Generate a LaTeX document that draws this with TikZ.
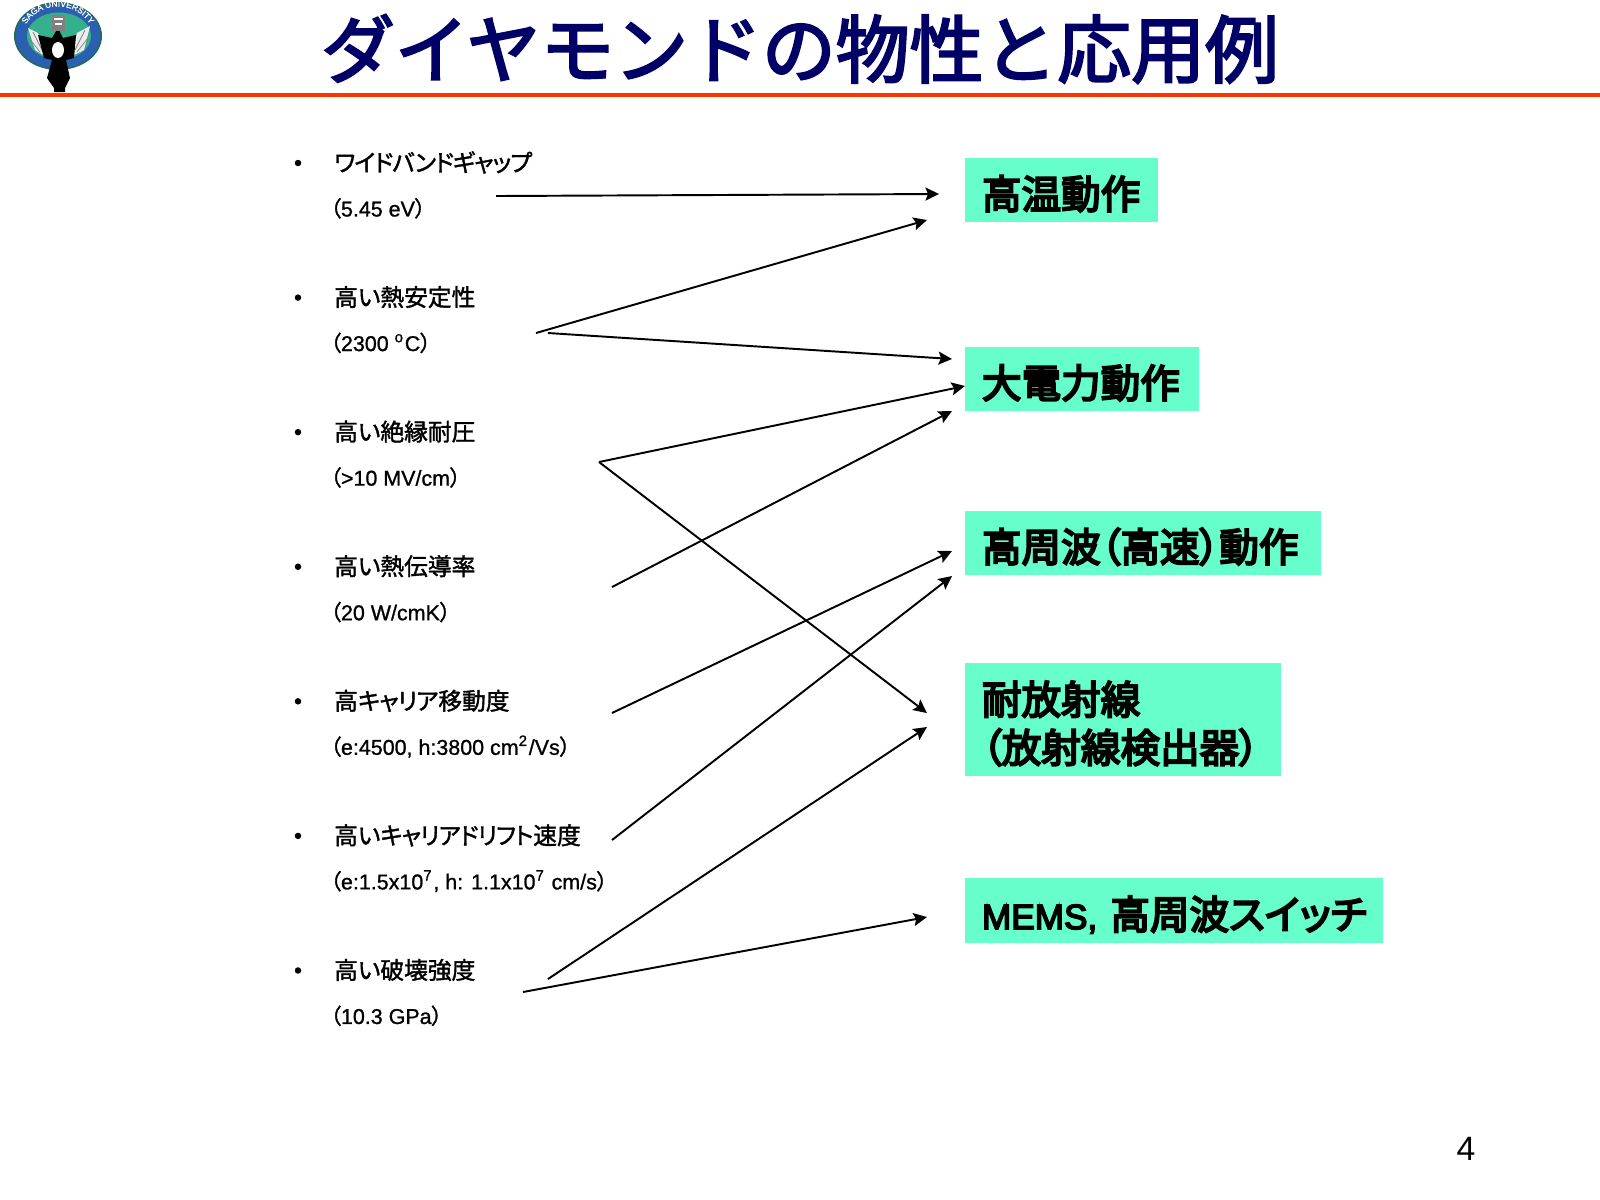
\documentclass[tikz,border=0pt]{standalone}
\usepackage{fontspec}
\usepackage{xcolor}
\usetikzlibrary{arrows.meta,positioning,decorations.text}
\setmainfont[FakeBold=1]{Liberation Sans}
\newfontfamily\latinbox[FakeBold=4.5]{Liberation Sans}
\newfontfamily\plainsans{Liberation Sans}
\newfontfamily\cjk[RawFeature={+palt;embolden=1.5}]{Noto Sans CJK JP}
\newfontfamily\cjknarrow[RawFeature={+palt;embolden=1.5;letterspace=-4}]{Noto Sans CJK JP}
\newfontfamily\cjkbox[RawFeature={+palt;embolden=5}]{Noto Sans CJK JP}
\newfontfamily\cjktitle[FakeBold=3]{Noto Sans CJK JP}
\newcommand{\jp}[1]{{\cjk #1}}
\newcommand{\kn}[1]{{\cjknarrow #1}}
\newcommand{\logofont}{\fontsize{2.4pt}{3pt}\selectfont}
\definecolor{sagablue}{HTML}{2B5FB0}
\definecolor{sagagreen}{HTML}{35B08C}
\definecolor{ruleorange}{HTML}{FF3300}
\definecolor{titleblue}{HTML}{000066}
\definecolor{goalgreen}{HTML}{66FFCC}

\begin{document}
\begin{tikzpicture}[
  x=0.01cm,y=-0.01cm,outer sep=0pt,
  bul/.style={circle,fill=black,inner sep=0pt,minimum size=0.065cm},
  head/.style={anchor=west,inner sep=0pt,text height=6pt,text depth=1.2pt,font=\fontsize{6.75pt}{8pt}\selectfont\cjk},
  sub/.style={anchor=west,inner sep=0pt,text height=6pt,text depth=1.2pt,font=\fontsize{6.1pt}{8pt}\selectfont},
  goal/.style={anchor=north west,fill=goalgreen,inner xsep=0.17cm,inner ysep=0pt,align=left,execute at begin node={\rule{0pt}{11.6pt}},font=\fontsize{11.25pt}{13.7pt}\selectfont\cjkbox},
  >={Stealth[length=1.35mm,width=1.3mm,inset=0.25mm]}]
  \useasboundingbox (0,0) rectangle (1600,1199);
  % header
  \node[inner sep=0pt,text=titleblue,font=\fontsize{21pt}{24pt}\selectfont\cjktitle] (title) at (800,49) {ダイヤモンドの物性と応用例};
  \draw[ruleorange,line width=1.4pt] (0,95) -- (1600,95);
  % logo
  \fill[sagagreen!60!black] (58,36) ellipse [x radius=44,y radius=34];
  \fill[sagablue] (58,36) ellipse [x radius=42.5,y radius=32.5];
  \fill[sagagreen] (59,36) ellipse [x radius=32,y radius=23.5];
  \fill[white!85!gray] (28,28) -- (38,33) -- (45,56) -- (35,50) -- cycle;
  \fill[white!85!gray] (90,26) -- (77,33) -- (72,56) -- (84,50) -- cycle;
  \draw[gray,line width=0.2pt] (33,32)--(42,50) (29,38)--(40,52) (85,30)--(75,50) (88,38)--(77,52);
  \fill[black] (38,35) -- (52,38) -- (58,28) -- (63,38) -- (76,35) -- (74,58) -- (66,60) -- (70,78)
    -- (65,88) -- (65,92) -- (54,92) -- (54,88) -- (47,78) -- (52,60) -- (44,58) -- cycle;
  \fill[white] (58,50) ellipse [x radius=6,y radius=8];
  \fill[gray] (52,15) rectangle (65,31);
  \draw[white,line width=0.4pt] (54,19) -- (63,19) (55,24) -- (62,24);
  \path[decorate,decoration={text along path,text align=center,
    text={|\color{white}\logofont|SAGA UNIVERSITY}}]
    (20,44) .. controls (24,-6) and (92,-6) .. (96,44);
  % properties
  \node[bul] (b1) at (298,163) {};
  \node[bul,below=1.28cm of b1] (b2) {};
  \node[bul,below=1.28cm of b2] (b3) {};
  \node[bul,below=1.28cm of b3] (b4) {};
  \node[bul,below=1.28cm of b4] (b5) {};
  \node[bul,below=1.28cm of b5] (b6) {};
  \node[bul,below=1.28cm of b6] (b7) {};
  \node[head,right=0.33cm of b1] (h1) {\kn{ワイドバンドギャップ}};
  \node[head,right=0.33cm of b2] (h2) {高い熱安定性};
  \node[head,right=0.33cm of b3] (h3) {高い絶縁耐圧};
  \node[head,right=0.33cm of b4] (h4) {高い熱伝導率};
  \node[head,right=0.33cm of b5] (h5) {高\kn{キャリア}移動度};
  \node[head,right=0.33cm of b6] (h6) {高い\kn{キャリアドリフト}速度};
  \node[head,right=0.33cm of b7] (h7) {高い破壊強度};
  \node[sub,below=0.45cm of h1.west,anchor=west,xshift=-0.04cm] (s1) {\jp{（}5.45 eV\jp{）}};
  \node[sub,below=0.45cm of h2.west,anchor=west,xshift=-0.04cm] (s2) {\jp{（}2300 \textsuperscript{o}C\jp{）}};
  \node[sub,below=0.45cm of h3.west,anchor=west,xshift=-0.04cm] (s3) {\jp{（}>10 MV/cm\jp{）}};
  \node[sub,below=0.45cm of h4.west,anchor=west,xshift=-0.04cm] (s4) {\jp{（}20 W/cmK\jp{）}};
  \node[sub,below=0.45cm of h5.west,anchor=west,xshift=-0.04cm] (s5) {\jp{（}e:4500, h:3800 cm\textsuperscript{2}/Vs\jp{）}};
  \node[sub,below=0.45cm of h6.west,anchor=west,xshift=-0.04cm] (s6) {\jp{（}e:1.5x10\textsuperscript{7}, h: 1.1x10\textsuperscript{7} cm/s\jp{）}};
  \node[sub,below=0.45cm of h7.west,anchor=west,xshift=-0.04cm] (s7) {\jp{（}10.3 GPa\jp{）}};
  % applications
  \node[goal,text width=1.59cm,minimum height=0.64cm] (g1) at (965,158) {高温動作};
  \node[goal,text width=2.00cm,minimum height=0.64cm,below=1.25cm of g1.south west,anchor=north west] (g2) {大電力動作};
  \node[goal,text width=3.22cm,minimum height=0.64cm,below=1.00cm of g2.south west,anchor=north west] (g3) {高周波（高速）動作};
  \node[goal,text width=2.82cm,minimum height=1.13cm,below=0.88cm of g3.south west,anchor=north west] (g4) {耐放射線\\（放射線検出器）};
  \node[goal,text width=3.84cm,minimum height=0.65cm,below=1.02cm of g4.south west,anchor=north west] (g5) {\mbox{{\latinbox\fontsize{10pt}{13.7pt}\selectfont MEMS,} 高周波スイッチ}};
  \node[inner sep=0pt,font=\fontsize{9.6pt}{11pt}\selectfont\plainsans] (pg) at (1466,1149) {4};
  % free ends of the arrows
  \coordinate (p1) at (496,196);
  \coordinate (p2a) at (536,333);
  \coordinate (p2b) at (548,333);
  \coordinate (p3) at (599,462);
  \coordinate (p4) at (612,587);
  \coordinate (p5) at (612,713);
  \coordinate (p6) at (612,840);
  \coordinate (p7a) at (548,979);
  \coordinate (p7b) at (523,992);
  \coordinate (t1a) at (939,194);
  \coordinate (t1b) at (927,220);
  \coordinate (t2a) at (952,359);
  \coordinate (t2b) at (965,386);
  \coordinate (t2c) at (952,411);
  \coordinate (t3a) at (952,551);
  \coordinate (t3b) at (952,576);
  \coordinate (t4a) at (927,713);
  \coordinate (t4b) at (927,727);
  \coordinate (t5) at (927,917);
  \draw[->,line width=0.55pt] (p1)--(t1a);
  \draw[->,line width=0.55pt] (p2a)--(t1b);
  \draw[->,line width=0.55pt] (p2b)--(t2a);
  \draw[->,line width=0.55pt] (p3)--(t2b);
  \draw[->,line width=0.55pt] (p3)--(t4a);
  \draw[->,line width=0.55pt] (p4)--(t2c);
  \draw[->,line width=0.55pt] (p5)--(t3a);
  \draw[->,line width=0.55pt] (p6)--(t3b);
  \draw[->,line width=0.55pt] (p7a)--(t4b);
  \draw[->,line width=0.55pt] (p7b)--(t5);
\end{tikzpicture}
\end{document}
